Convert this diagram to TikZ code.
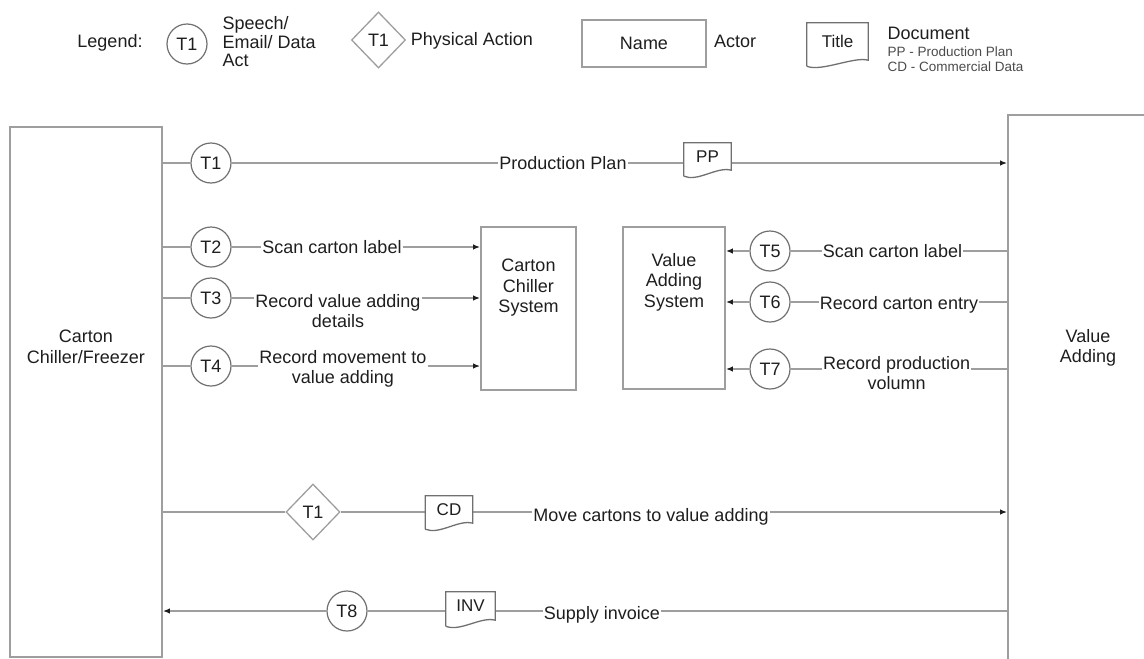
\documentclass[tikz,border=0pt]{standalone}
\usepackage{fontspec}
\setmainfont{Liberation Sans}
\usetikzlibrary{arrows.meta,shapes.geometric}
\definecolor{ink}{HTML}{1E1E1E}
\definecolor{wire}{HTML}{9E9E9E}
\definecolor{rim}{HTML}{707070}
\tikzset{
  flow/.style={draw=wire,line width=1.6pt},
  sendto/.style={-{Latex[length=7pt,width=5.5pt,color=ink]}},
  act/.style={circle,draw=rim,line width=1.2pt,minimum size=40pt,inner sep=0pt},
  phys/.style={diamond,draw=wire,line width=1.3pt,minimum width=54pt,minimum height=56pt,inner sep=0pt},
  actor/.style={rectangle,draw=wire,line width=1.8pt,inner sep=0pt},
  doc/.style={rectangle,inner sep=0pt,font=\fontsize{17}{20}\selectfont},
  txt/.style={inner xsep=1pt,inner ysep=0pt,align=center}
}
\newcommand\docedge[1]{\draw[draw=rim,line width=1.3pt] ([yshift=-6pt]#1.south west) -- (#1.north west) -- (#1.north east) -- (#1.south east) .. controls +(-14,-4) and +(14,6) .. ([yshift=-6pt]#1.south west);}
\begin{document}
\begin{tikzpicture}[x=1pt,y=-1pt,font=\fontsize{18}{20.5}\selectfont,text=ink]
\useasboundingbox (0,0) rectangle (1144,659);
\clip (0,0) rectangle (1144,659);
\node (legend) at (110,43) {Legend:};
\node[act] (lact) at (187,44) {T1};
\node[anchor=west,align=left,font=\fontsize{18}{18.5}\selectfont] (lactx) at (219,42) {Speech/\\Email/ Data\\Act};
\node[phys] (lphys) at (378.5,40) {T1};
\node (lphysx) at (472,41) {Physical Action};
\node[actor,minimum width=124pt,minimum height=47pt] (lname) at (644,43.5) {Name};
\node (lnamex) at (735,41) {Actor};
\node[doc,minimum width=61pt,minimum height=37pt] (ltitle) at (837.5,41.5) {Title};
\node[anchor=west] (ldocx) at (884,33) {Document};
\node[anchor=west,align=left,text=ink!80,font=\fontsize{13.5}{15}\selectfont] (ldocs) at (884,59) {PP - Production Plan\\CD - Commercial Data};
\node[actor,minimum width=152pt,minimum height=530pt,label={[align=center,yshift=45pt]center:{Carton\\Chiller/Freezer}}] (ccf) at (86,392) {};
\node[actor,minimum width=160pt,minimum height=600pt,label={[align=center,yshift=67pt]center:{Value\\Adding}}] (va) at (1088,415) {};
\node[actor,minimum width=95pt,minimum height=163pt,label={[align=center,yshift=20.5pt]center:{Carton\\Chiller\\System}}] (ccs) at (528.5,308.5) {};
\node[actor,minimum width=102pt,minimum height=162pt,label={[align=center,yshift=26pt]center:{Value\\Adding\\System}}] (vas) at (674,308) {};
\foreach \n/\t/\x/\y in {t1/T1/211/163,t2/T2/211/247,t3/T3/211/298,t4/T4/211/366,t5/T5/770/251,t6/T6/770/302,t7/T7/770/369,t8/T8/347/611}{\node[act] (\n) at (\x,\y) {\t};}
\node[phys] (dia) at (313,512) {T1};
\node[doc,minimum width=47pt,minimum height=27pt] (pp) at (707.5,156.5) {PP};
\node[doc,minimum width=47pt,minimum height=27pt] (cd) at (449,509.5) {CD};
\node[doc,minimum width=49pt,minimum height=28pt] (inv) at (470.5,606) {INV};
\node[txt] (plan) at (563,163) {Production Plan};
\node[txt] (scanl) at (332,247) {Scan carton label};
\node[txt] (detl) at (338,311) {Record value adding\\details};
\node[txt] (movl) at (343,369) {Record movement to\\value adding};
\node[txt] (scanr) at (892.5,251.5) {Scan carton label};
\node[txt] (entr) at (899,305) {Record carton entry};
\node[txt] (volr) at (896.7,373.3) {Record production\\volumn};
\node[txt] (movc) at (651,517) {Move cartons to value adding};
\node[txt] (supl) at (602,615) {Supply invoice};
\draw[flow] (ccf.east|-t1) -- (t1) (t1) -- (t1-|plan.west) (t1-|plan.east) -- (t1-|pp.west);
\draw[flow,sendto] (t1-|pp.east) -- (t1-|va.west);
\foreach \n/\l in {t2/scanl,t3/detl,t4/movl}{\draw[flow] (ccf.east|-\n) -- (\n) (\n) -- (\n-|\l.west);\draw[flow,sendto] (\n-|\l.east) -- (\n-|ccs.west);}
\foreach \n/\l in {t5/scanr,t6/entr,t7/volr}{\draw[flow] (va.west|-\n) -- (\n-|\l.east) (\n-|\l.west) -- (\n);\draw[flow,sendto] (\n) -- (\n-|vas.east);}
\draw[flow] (ccf.east|-dia) -- (dia) (dia) -- (dia-|cd.west) (dia-|cd.east) -- (dia-|movc.west);
\draw[flow,sendto] (dia-|movc.east) -- (dia-|va.west);
\draw[flow] (va.west|-t8) -- (t8-|supl.east) (t8-|supl.west) -- (t8-|inv.east) (t8-|inv.west) -- (t8);
\draw[flow,sendto] (t8) -- (t8-|ccf.east);
\docedge{pp}\docedge{cd}\docedge{inv}\docedge{ltitle}
\end{tikzpicture}
\end{document}
